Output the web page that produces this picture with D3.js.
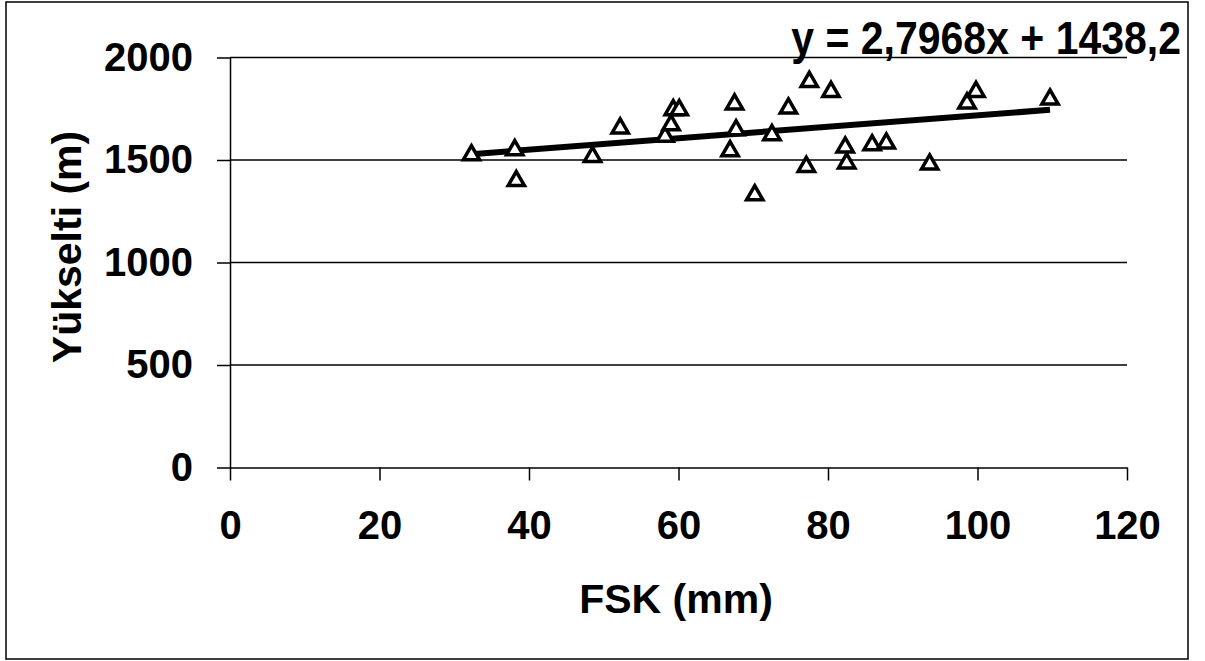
<!DOCTYPE html>
<html>
<head>
<meta charset="utf-8">
<script src="https://cdn.jsdelivr.net/npm/d3@7"></script>
<style>
  body { margin: 0; background: #fff; }
  text { font-family: "Liberation Sans", Arial, sans-serif; font-weight: bold; fill: #000; }
</style>
</head>
<body>
<div id="svg"></div>
<script>
// data
let fsk = [32.3, 38.1, 38.3, 48.5, 52.2, 58.2, 59.0, 59.3, 60.1, 66.9, 67.5, 67.7, 70.2,
  72.5, 74.7, 77.1, 77.5, 80.4, 82.3, 82.5, 85.9, 87.8, 93.6, 98.6, 99.8, 109.7];
let elev = [1524, 1549, 1398, 1516, 1655, 1614, 1671, 1744, 1744, 1544, 1772, 1646, 1329,
  1622, 1752, 1467, 1882, 1833, 1562, 1484, 1573, 1581, 1479, 1777, 1833, 1796];
let xTicks = [0, 20, 40, 60, 80, 100, 120];
let yTicks = [0, 500, 1000, 1500, 2000];
let slope = 2.7968;
let intercept = 1438.2;
let eqLabel = 'y = 2,7968x + 1438,2';

//dimensions of svg
let w = 1205;
let h = 661;
let plotLeft = 230, plotRight = 1127, plotTop = 57.5, plotBottom = 467.5;

let svg = d3.select('#svg').
append('svg').
attr('width', w).
attr('height', h);

//outer frame
svg.append('rect').
attr('x', 6).attr('y', 2).
attr('width', 1182).attr('height', 657).
attr('fill', 'none').attr('stroke', '#000').attr('stroke-width', 1.5);

let xScale = d3.scaleLinear().domain([0, 120]).range([plotLeft, plotRight]);
let yScale = d3.scaleLinear().domain([0, 2000]).range([plotBottom, plotTop]);

//gridlines
svg.selectAll('.grid').
data(yTicks.filter(d => d > 0)).
enter().
append('line').
attr('x1', plotLeft).attr('x2', plotRight).
attr('y1', d => yScale(d)).attr('y2', d => yScale(d)).
attr('stroke', '#000').attr('stroke-width', 1.5);

//X axis
let xAxis = d3.axisBottom(xScale).tickValues(xTicks).tickSizeInner(13).tickSizeOuter(0).tickPadding(30);
let gx = svg.append('g').
attr('transform', 'translate(0,' + plotBottom + ')').
call(xAxis);

//Y axis
let yAxis = d3.axisLeft(yScale).tickValues(yTicks).tickFormat(d3.format('d')).
tickSizeInner(13).tickSizeOuter(0).tickPadding(24);
let gy = svg.append('g').
attr('transform', 'translate(' + plotLeft + ',0)').
call(yAxis);

[gx, gy].forEach(g => {
  g.select('.domain').attr('stroke', '#000').attr('stroke-width', 1.5);
  g.selectAll('.tick line').attr('stroke', '#000').attr('stroke-width', 1.5);
  g.selectAll('.tick text').
  style('font-family', '"Liberation Sans", Arial, sans-serif').
  style('font-weight', 'bold').
  style('font-size', '40px').
  attr('fill', '#000');
});

//regression line
let xMin = d3.min(fsk), xMax = d3.max(fsk);
svg.append('line').
attr('x1', xScale(xMin)).attr('y1', yScale(slope * xMin + intercept)).
attr('x2', xScale(xMax)).attr('y2', yScale(slope * xMax + intercept)).
attr('stroke', '#000').attr('stroke-width', 6);

//points
svg.selectAll('.pt').
data(fsk).
enter().
append('path').
attr('d', d3.symbol().type(d3.symbolTriangle).size(115)).
attr('transform', (d, i) => 'translate(' + xScale(d) + ',' + yScale(elev[i]) + ')').
attr('fill', '#fff').
attr('stroke', '#000').
attr('stroke-width', 3.5);

//equation
svg.append('text').
attr('transform', 'translate(1181,54) scale(1,1.12)').
attr('text-anchor', 'end').
style('font-size', '41px').
text(eqLabel);

//axis titles
svg.append('text').
attr('x', 676).attr('y', 613).
attr('text-anchor', 'middle').
style('font-size', '41px').
text('FSK (mm)');

svg.append('text').
attr('transform', 'translate(81,247) rotate(-90)').
attr('text-anchor', 'middle').
style('font-size', '41px').
text('Yükselti (m)');
</script>
</body>
</html>
